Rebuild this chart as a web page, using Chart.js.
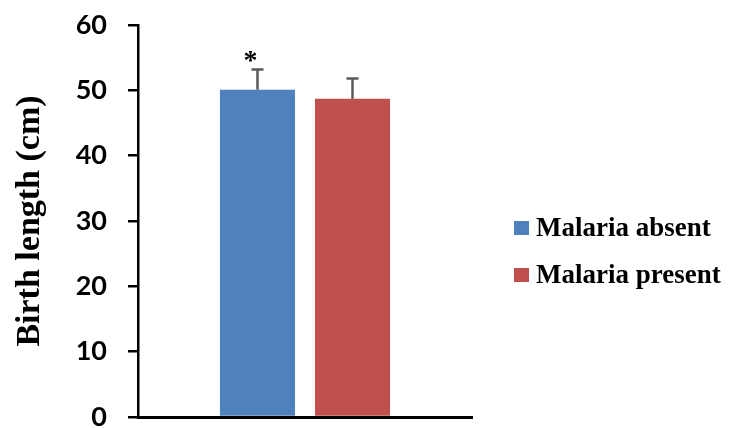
<!DOCTYPE html>
<html>
<head>
<meta charset="utf-8">
<script src="https://cdn.jsdelivr.net/npm/chart.js@4.4.1/dist/chart.umd.min.js"></script>
<style>
  html, body { margin: 0; padding: 0; background: #fff; }
  #wrap { width: 730px; height: 428px; }
</style>
</head>
<body>
<div id="wrap"><canvas id="c" width="730" height="428"></canvas></div>
<script>
// Mean birth length by maternal malaria status, with upper SD whiskers
const categories = ['Birth length'];
const seriesNames = ['Malaria absent', 'Malaria present'];
const malariaAbsent = [50.1];
const malariaPresent = [48.7];
const sdAbsent = [3.1];
const sdPresent = [3.1];
const significance = ['*', ''];
const yTicks = [0, 10, 20, 30, 40, 50, 60];

const BLUE = '#4F81BD';
const RED = '#C0504D';

// Upper-only error bars plus significance marks above them
const errorBars = {
  id: 'errorBars',
  afterDatasetsDraw(chart) {
    const ctx = chart.ctx;
    const y = chart.scales.y;
    const errs = [sdAbsent, sdPresent];
    chart.data.datasets.forEach((ds, di) => {
      const meta = chart.getDatasetMeta(di);
      meta.data.forEach((bar, i) => {
        const v = ds.data[i];
        const top = y.getPixelForValue(v + errs[di][i]);
        const base = y.getPixelForValue(v);
        ctx.save();
        ctx.strokeStyle = '#5a5a5a';
        ctx.lineWidth = 2.5;
        ctx.beginPath();
        ctx.moveTo(bar.x, base);
        ctx.lineTo(bar.x, top);
        ctx.moveTo(bar.x - 6, top);
        ctx.lineTo(bar.x + 6, top);
        ctx.stroke();
        if (significance[di]) {
          ctx.fillStyle = '#000';
          ctx.font = 'bold 28px "Liberation Serif"';
          ctx.textAlign = 'center';
          ctx.textBaseline = 'middle';
          ctx.fillText(significance[di], bar.x - 7, top - 8);
        }
        ctx.restore();
      });
    });
  }
};

// Legend drawn to the right of the plot
const sideLegend = {
  id: 'sideLegend',
  afterDraw(chart) {
    const ctx = chart.ctx;
    const x0 = 514, y0 = 228, step = 47;
    chart.data.datasets.forEach((ds, i) => {
      const cy = y0 + i * step;
      ctx.save();
      ctx.fillStyle = ds.backgroundColor;
      ctx.fillRect(x0, cy - 7, 15, 14);
      ctx.fillStyle = '#000';
      ctx.font = 'bold 27px "Liberation Serif"';
      ctx.textAlign = 'left';
      ctx.textBaseline = 'middle';
      ctx.fillText(ds.label, x0 + 22, cy + 1);
      ctx.restore();
    });
  }
};

new Chart(document.getElementById('c'), {
  type: 'bar',
  data: {
    labels: categories,
    datasets: [
      { label: seriesNames[0], data: malariaAbsent, backgroundColor: BLUE },
      { label: seriesNames[1], data: malariaPresent, backgroundColor: RED }
    ]
  },
  options: {
    responsive: false,
    animation: false,
    devicePixelRatio: 1,
    categoryPercentage: 0.569,
    barPercentage: 0.79,
    layout: { padding: { left: 0, right: 258, top: 25, bottom: 11 } },
    plugins: { legend: { display: false }, tooltip: { enabled: false } },
    scales: {
      x: {
        ticks: { display: false },
        grid: { display: false },
        border: { display: true, color: '#000', width: 3 },
        afterFit(s) { s.height = 0; }
      },
      y: {
        min: 0,
        max: 60,
        afterBuildTicks(s) { s.ticks = yTicks.map(v => ({ value: v })); },
        ticks: {
          color: '#000',
          padding: 21,
          font: { family: 'Lato', weight: 'bold', size: 27 }
        },
        grid: {
          drawOnChartArea: false,
          drawTicks: true,
          tickLength: 10,
          color: '#000',
          lineWidth: 2.5
        },
        border: { display: true, color: '#000', width: 2.5 },
        title: {
          display: true,
          text: 'Birth length (cm)',
          color: '#000',
          font: { family: 'Liberation Serif', weight: 'bold', size: 34 },
          padding: { top: 10, bottom: 0 }
        },
        afterFit(s) {
          s.width = 138;
          s.paddingTop = 0;
          s.paddingBottom = 0;
        }
      }
    }
  },
  plugins: [errorBars, sideLegend]
});
</script>
</body>
</html>
